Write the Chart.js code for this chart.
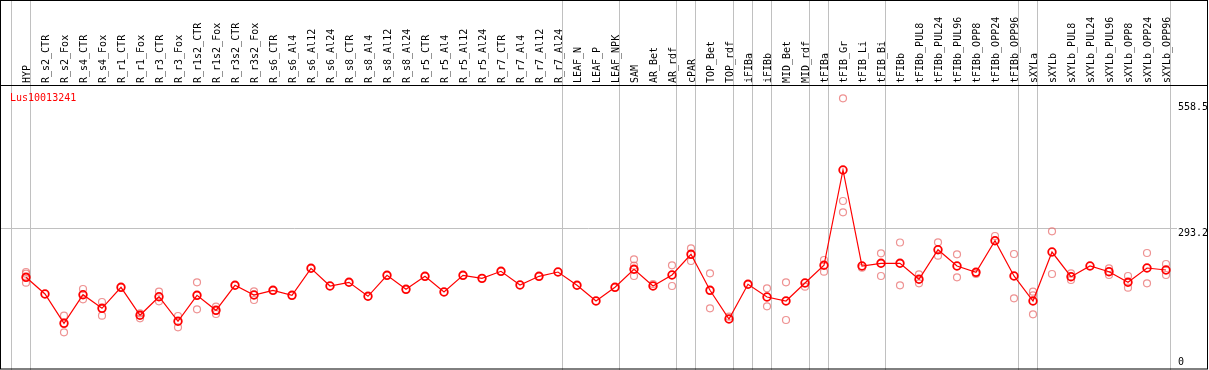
<!DOCTYPE html>
<html>
<head>
<meta charset="utf-8">
<script src="https://cdn.jsdelivr.net/npm/chart.js@4.4.0/dist/chart.umd.min.js"></script>
<style>
  html, body { margin: 0; padding: 0; background: #fff; }
  canvas { display: block; }
</style>
</head>
<body>
<canvas id="chart" width="1209" height="370"></canvas>
<script>
const title = 'Lus10013241';

const samples = ['HYP', 'R_s2_CTR', 'R_s2_Fox', 'R_s4_CTR', 'R_s4_Fox', 'R_r1_CTR', 'R_r1_Fox',
  'R_r3_CTR', 'R_r3_Fox', 'R_r1s2_CTR', 'R_r1s2_Fox', 'R_r3s2_CTR', 'R_r3s2_Fox',
  'R_s6_CTR', 'R_s6_Al4', 'R_s6_Al12', 'R_s6_Al24', 'R_s8_CTR', 'R_s8_Al4', 'R_s8_Al12', 'R_s8_Al24',
  'R_r5_CTR', 'R_r5_Al4', 'R_r5_Al12', 'R_r5_Al24', 'R_r7_CTR', 'R_r7_Al4', 'R_r7_Al12', 'R_r7_Al24',
  'LEAF_N', 'LEAF_P', 'LEAF_NPK', 'SAM', 'AR_Bet', 'AR_rdf', 'cPAR', 'TOP_Bet', 'TOP_rdf',
  'iFIBa', 'iFIBb', 'MID_Bet', 'MID_rdf', 'tFIBa', 'tFIB_Gr', 'tFIB_Li', 'tFIB_Bi',
  'tFIBb', 'tFIBb_PUL8', 'tFIBb_PUL24', 'tFIBb_PUL96', 'tFIBb_OPP8', 'tFIBb_OPP24', 'tFIBb_OPP96',
  'sXYLa', 'sXYLb', 'sXYLb_PUL8', 'sXYLb_PUL24', 'sXYLb_PUL96', 'sXYLb_OPP8', 'sXYLb_OPP24', 'sXYLb_OPP96'];

// mean expression per sample
const meanValues = [189.9, 155.0, 93.6, 153.5, 125.0, 169.0, 110.4, 149.3, 97.8, 152.2, 120.8, 173.2, 152.9,
  162.7, 152.2, 208.8, 171.7, 179.5, 150.2, 194.1, 164.8,
  192.0, 159.2, 194.1, 187.8, 202.5, 173.8, 192.0, 201.0,
  173.2, 140.3, 169.0, 206.7, 171.7, 194.8, 238.1, 162.7, 102.6,
  175.3, 148.7, 140.3, 178.0, 215.1, 414.7, 213.6, 219.3,
  219.3, 185.8, 247.7, 213.6, 200.4, 266.6, 192.7,
  140.3, 242.9, 191.2, 213.6, 201.7, 179.5, 209.4, 205.2];

// replicates (null where hidden behind the mean)
const rep1 = [201.0, null, 109.5, 165.4, 138.2, null, 114.6, 159.8, 108.9, 179.5, 128.4, null, 160.6,
  null, null, null, null, null, null, null, null,
  null, null, null, null, null, null, null, null,
  null, null, null, 227.6, 175.9, 215.1, 250.7, 198.3, 107.4,
  null, 166.9, 179.5, 170.3, 226.2, 564.8, 210.0, 240.2,
  262.8, 196.2, 263.2, 238.1, 196.9, 276.4, 238.7,
  159.8, 286.3, 198.3, null, 208.8, 192.7, 240.8, 217.8];
const rep2 = [197.5, null, 74.8, 143.9, 109.5, null, 104.1, 139.7, 85.2, 122.9, 113.1, null, 142.4,
  null, null, null, null, null, null, null, null,
  null, null, null, null, null, null, null, null,
  null, null, null, 214.2, null, 171.7, 224.1, 125.0, null,
  null, 129.2, 100.5, null, 201.7, 349.7, null, 192.7,
  173.2, 177.4, 235.2, 189.9, null, null, 146.0,
  152.2, 196.9, 184.3, null, 194.8, 168.2, 177.4, 194.8];
const rep3 = [178.6, null, null, null, null, null, null, null, null, null, null, null, null,
  null, null, null, null, null, null, null, null,
  null, null, null, null, null, null, null, null,
  null, null, null, 192.7, null, null, null, null, null,
  null, null, null, null, null, 326.1, null, null,
  null, null, null, null, null, null, null,
  112.5, null, null, null, null, null, null, null];

// index of the last sample in each group (-1 = left edge)
const groupEnds = [-1, 0, 28, 31, 34, 35, 37, 38, 39, 41, 42, 45, 52, 53, 60];
const yTicks = [558.5, 293.2, 0];
const gridValue = 293.2;

const FONT = '10px "DejaVu Sans Mono", monospace';

const toPoints = arr => arr.map((v, i) => ({ x: i, y: v })).filter(p => p.y !== null);

const frame = {
  id: 'frame',
  beforeDraw(chart) {
    const c = chart.ctx;
    c.save();
    c.fillStyle = '#fff';
    c.fillRect(0, 0, chart.width, chart.height);
    c.restore();
  },
  beforeDatasetsDraw(chart) {
    const c = chart.ctx, xs = chart.scales.x, ys = chart.scales.y;
    c.save();
    c.strokeStyle = '#c0c0c0';
    c.lineWidth = 1;
    groupEnds.forEach(i => {
      const px = Math.floor(xs.getPixelForValue(i + 0.25)) + 0.5;
      c.beginPath(); c.moveTo(px, 0); c.lineTo(px, 370); c.stroke();
    });
    const gy = Math.round(ys.getPixelForValue(gridValue)) + 0.5;
    c.beginPath(); c.moveTo(0, gy); c.lineTo(1177, gy); c.stroke();
    c.restore();
  },
  afterDraw(chart) {
    const c = chart.ctx, xs = chart.scales.x, ys = chart.scales.y;
    c.save();
    // header labels
    c.font = FONT;
    c.fillStyle = '#000';
    c.textAlign = 'left';
    c.textBaseline = 'alphabetic';
    samples.forEach((s, i) => {
      c.save();
      c.translate(Math.round(xs.getPixelForValue(i)), 83);
      c.rotate(-Math.PI / 2);
      c.fillText(s, 0, 3.6);
      c.restore();
    });
    // y tick labels
    yTicks.forEach(v => {
      const y = Math.min(ys.getPixelForValue(v) + 8.5, 365);
      c.fillText(String(v), 1178, y);
    });
    // title
    c.fillStyle = '#ff0000';
    c.fillText(title, 10, 101);
    // borders
    c.strokeStyle = '#000';
    c.lineWidth = 1;
    c.strokeRect(0.5, 0.5, 1207, 368.5);
    c.beginPath(); c.moveTo(0, 85.5); c.lineTo(1208, 85.5); c.stroke();
    c.restore();
  }
};

const repStyle = {
  showLine: false,
  pointRadius: 3.5,
  pointBorderWidth: 1.2,
  pointBorderColor: 'rgba(232, 110, 110, 0.75)',
  pointBackgroundColor: 'rgba(0,0,0,0)',
  order: 2
};

new Chart(document.getElementById('chart'), {
  type: 'scatter',
  data: {
    datasets: [
      {
        data: toPoints(meanValues),
        showLine: true,
        borderColor: '#ff0000',
        borderWidth: 1.2,
        pointRadius: 3.8,
        pointBorderWidth: 1.8,
        pointBorderColor: '#ff0000',
        pointBackgroundColor: 'rgba(0,0,0,0)',
        order: 0
      },
      Object.assign({ data: toPoints(rep1) }, repStyle),
      Object.assign({ data: toPoints(rep2) }, repStyle),
      Object.assign({ data: toPoints(rep3) }, repStyle)
    ]
  },
  options: {
    responsive: false,
    animation: false,
    layout: { autoPadding: false, padding: { left: 1, right: 1, top: 85, bottom: 2 } },
    scales: {
      x: { type: 'linear', display: false, min: -25 / 19, max: 1182 / 19 },
      y: { type: 'linear', display: false, min: 0, max: 283 / 0.4775 }
    },
    plugins: {
      legend: { display: false },
      tooltip: { enabled: false }
    }
  },
  plugins: [frame]
});
</script>
</body>
</html>
